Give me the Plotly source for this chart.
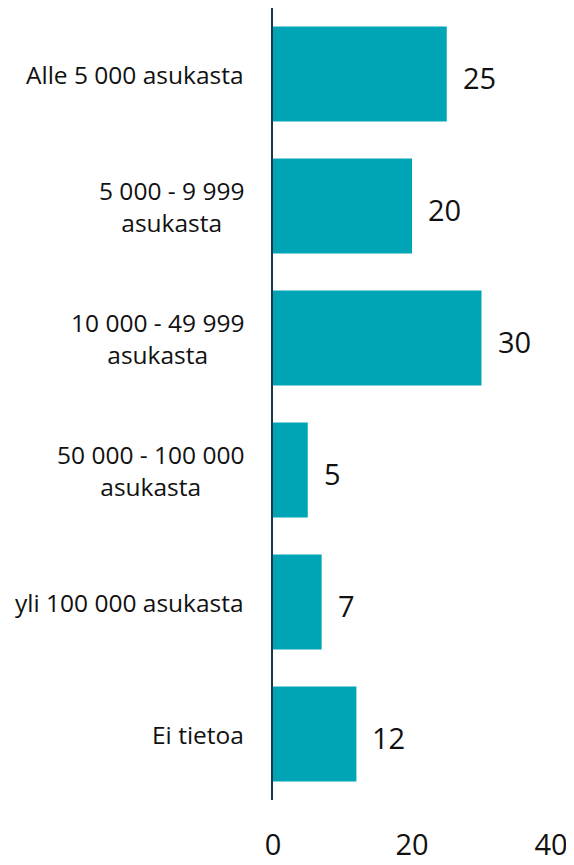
import plotly.graph_objects as go

# Data
categories = ["Alle 5 000 asukasta", "5 000 - 9 999<br>asukasta", "10 000 - 49 999<br>asukasta",
              "50 000 - 100 000<br>asukasta", "yli 100 000 asukasta", "Ei tietoa"]
values = [25, 20, 30, 5, 7, 12]
x_ticks = [0, 20, 40]

bar_color = "#00A5B5"
axis_color = "#0E3B4A"
font_family = "Open Sans, Noto Sans, sans-serif"

fig = go.Figure(go.Bar(
    y=categories, x=values, orientation="h",
    marker=dict(color=bar_color, line=dict(width=0)),
    width=0.72,
    hoverinfo="x+y",
))

# category labels (centred multi-line, like the original)
for c in categories:
    fig.add_annotation(x=0, xref="paper", y=c, yref="y", text=c, showarrow=False,
                       xanchor="right", xshift=-27, align="center",
                       font=dict(size=24.5, color="#111111", family=font_family))

# value labels
for c, v in zip(categories, values):
    fig.add_annotation(x=v, y=c, text=str(v), showarrow=False,
                       xanchor="left", xshift=14, yshift=-3,
                       font=dict(size=29, color="#111111", family=font_family))

fig.update_yaxes(autorange="reversed", showticklabels=False, ticks="",
                 showline=True, linecolor=axis_color, linewidth=2,
                 showgrid=False, zeroline=False)
fig.update_xaxes(range=[0, 40], tickvals=x_ticks, showgrid=False, zeroline=False,
                 showline=False, ticks="", ticklabelstandoff=25,
                 tickfont=dict(size=29, color="#111111", family=font_family))

# page body has an 8px margin, so offsets are shifted accordingly
fig.update_layout(
    width=566, height=857,
    margin=dict(l=265, r=23, t=0, b=65),
    plot_bgcolor="white", paper_bgcolor="white",
    showlegend=False,
    font=dict(family=font_family),
)

fig.write_html("out.html")
